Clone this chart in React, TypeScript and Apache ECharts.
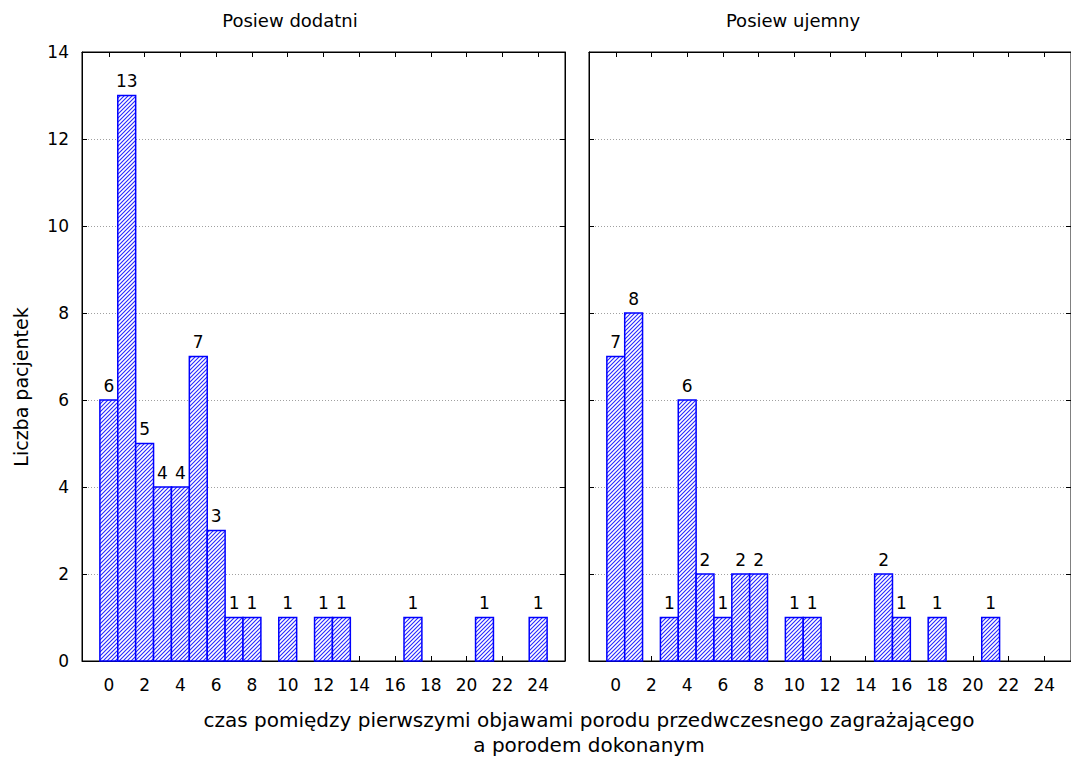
import React, { useEffect, useRef } from "react";
import * as echarts from "echarts";

const FONT = "DejaVu Sans";

const xTicks = [0, 2, 4, 6, 8, 10, 12, 14, 16, 18, 20, 22, 24];
const posCats = [0, 1, 2, 3, 4, 5, 6, 7, 8, 10, 12, 13, 17, 21, 24];
const posVals = [6, 13, 5, 4, 4, 7, 3, 1, 1, 1, 1, 1, 1, 1, 1];
const negCats = [0, 1, 3, 4, 5, 6, 7, 8, 10, 11, 15, 16, 18, 21];
const negVals = [7, 8, 1, 6, 2, 1, 2, 2, 1, 1, 2, 1, 1, 1];
const panelTitles = ["Posiew dodatni", "Posiew ujemny"];
const yName = "Liczba pacjentek";
const xNameLines = [
  "czas pomiędzy pierwszymi objawami porodu przedwczesnego zagrażającego",
  "a porodem dokonanym",
];

function makePattern() {
  const s = 4;
  const c = document.createElement("canvas");
  c.width = s;
  c.height = s;
  const ctx = c.getContext("2d")!;
  ctx.fillStyle = "#ffffff";
  ctx.fillRect(0, 0, s, s);
  ctx.strokeStyle = "#2626ff";
  ctx.lineWidth = 1.1;
  ctx.beginPath();
  ctx.moveTo(-1, s + 1);
  ctx.lineTo(s + 1, -1);
  ctx.moveTo(-1, 1);
  ctx.lineTo(1, -1);
  ctx.moveTo(s - 1, s + 1);
  ctx.lineTo(s + 1, s - 1);
  ctx.stroke();
  return { image: c, repeat: "repeat", imageWidth: s, imageHeight: s } as any;
}

export default function App() {
  const ref = useRef<HTMLDivElement>(null);
  useEffect(() => {
    const chart = echarts.init(ref.current!, null, { renderer: "svg" });
    const pattern = makePattern();

    const grids = [
      { left: 82, top: 52, width: 483, height: 609 },
      { left: 589, top: 52, width: 483, height: 609 },
    ].map((g) => ({
      ...g,
      show: true,
      borderColor: "#000",
      borderWidth: 1,
      backgroundColor: "transparent",
    }));

    const xBase = (gridIndex: number, position: "bottom" | "top") => ({
      type: "value",
      gridIndex,
      position,
      min: -1.5,
      max: 25.5,
      minInterval: 2,
      maxInterval: 2,
      axisLine: { show: true, onZero: false, lineStyle: { color: "#000", width: 1 } },
      axisTick: { show: true, inside: true, length: 5, lineStyle: { color: "#000" } },
      splitLine: { show: false },
      axisLabel: {
        show: position === "bottom",
        margin: 15,
        color: "#000",
        fontSize: 17,
        fontFamily: FONT,
        showMinLabel: false,
        showMaxLabel: false,
        formatter: (v: number) => (xTicks.indexOf(v) >= 0 ? String(v) : ""),
      },
    });

    const yBase = (gridIndex: number, position: "left" | "right", labels: boolean, split: boolean) => ({
      type: "value",
      gridIndex,
      position,
      min: 0,
      max: 14,
      interval: 2,
      axisLine: { show: true, onZero: false, lineStyle: { color: "#000", width: 1 } },
      axisTick: { show: true, inside: true, length: 5, lineStyle: { color: "#000" } },
      splitLine: { show: split, lineStyle: { color: "#a0a0a0", type: [1, 2], width: 1 } },
      axisLabel: { show: labels, margin: 13, color: "#000", fontSize: 17, fontFamily: FONT },
    });

    const renderItem = (params: any, api: any) => {
      const x = api.value(0);
      const v = api.value(1);
      const p0 = api.coord([x - 0.5, v]);
      const p1 = api.coord([x + 0.5, 0]);
      return {
        type: "group",
        children: [
          {
            type: "rect",
            shape: { x: p0[0], y: p0[1], width: p1[0] - p0[0], height: p1[1] - p0[1] },
            style: { fill: pattern, stroke: "#0000ff", lineWidth: 1.5 },
          },
          {
            type: "text",
            style: {
              text: String(v),
              x: (p0[0] + p1[0]) / 2,
              y: p0[1] - 6,
              textAlign: "center",
              textVerticalAlign: "bottom",
              fontSize: 17,
              fontFamily: FONT,
              fill: "#000",
            },
          },
        ],
      };
    };

    chart.setOption({
      animation: false,
      backgroundColor: "#fff",
      grid: grids,
      xAxis: [xBase(0, "bottom"), xBase(0, "top"), xBase(1, "bottom"), xBase(1, "top")],
      yAxis: [
        yBase(0, "left", true, true),
        yBase(0, "right", false, false),
        yBase(1, "left", false, true),
        yBase(1, "right", false, false),
      ],
      series: [
        {
          type: "custom",
          xAxisIndex: 0,
          yAxisIndex: 0,
          renderItem,
          data: posCats.map((c, i) => [c, posVals[i]]),
        },
        {
          type: "custom",
          xAxisIndex: 2,
          yAxisIndex: 2,
          renderItem,
          data: negCats.map((c, i) => [c, negVals[i]]),
        },
      ],
      graphic: [
        {
          type: "text",
          x: 290,
          y: 20,
          style: { text: panelTitles[0], textAlign: "center", textVerticalAlign: "middle", fontSize: 18, fontFamily: FONT, fill: "#000" },
        },
        {
          type: "text",
          x: 793,
          y: 20,
          style: { text: panelTitles[1], textAlign: "center", textVerticalAlign: "middle", fontSize: 18, fontFamily: FONT, fill: "#000" },
        },
        {
          type: "text",
          x: 21,
          y: 387,
          rotation: Math.PI / 2,
          style: { text: yName, textAlign: "center", textVerticalAlign: "middle", fontSize: 19, fontFamily: FONT, fill: "#000" },
        },
        {
          type: "text",
          x: 589,
          y: 720,
          style: { text: xNameLines[0], textAlign: "center", textVerticalAlign: "middle", fontSize: 20, fontFamily: FONT, fill: "#000" },
        },
        {
          type: "text",
          x: 589,
          y: 745,
          style: { text: xNameLines[1], textAlign: "center", textVerticalAlign: "middle", fontSize: 20, fontFamily: FONT, fill: "#000" },
        },
      ],
    });
    return () => chart.dispose();
  }, []);
  return <div ref={ref} style={{ position: "absolute", left: 0, top: 0, width: 1071, height: 760 }} />;
}
